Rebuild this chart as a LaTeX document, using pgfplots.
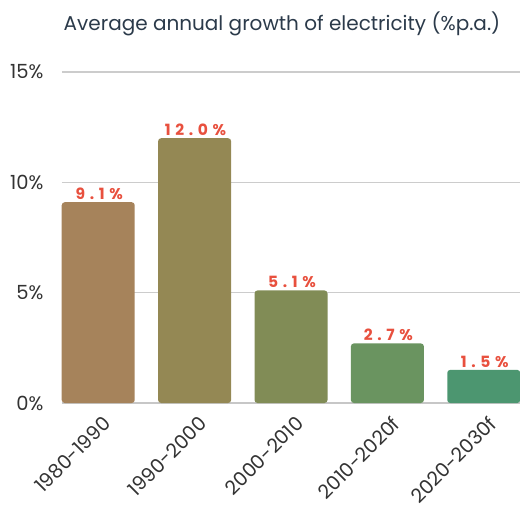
\documentclass[border=0pt]{standalone}
\usepackage{pgfplots}
\pgfplotsset{compat=1.18}
\usepackage{fontspec}
\setmainfont{Poppins}
\newfontfamily\lblfont[LetterSpace=30]{Poppins}
\definecolor{c1}{HTML}{A6835B}
\definecolor{c2}{HTML}{948854}
\definecolor{c3}{HTML}{818C56}
\definecolor{c4}{HTML}{6A9460}
\definecolor{c5}{HTML}{4C9670}
\definecolor{lblred}{HTML}{E8503E}
\definecolor{titlec}{HTML}{2B3A4A}
\definecolor{tickc}{HTML}{333333}
\begin{document}
\begin{tikzpicture}
\begin{axis}[
  scale only axis, width=458pt, height=331pt,
  xmin=-0.376, xmax=4.376, ymin=0, ymax=15,
  ybar, bar width=73pt, bar shift=0pt,
  axis x line*=bottom, axis y line*=left,
  y axis line style={draw=none},
  x axis line style={draw=black!22, line width=1.8pt, -},
  major tick length=0,
  ytick={0,5,10,15}, yticklabels={0\%,5\%,10\%,15\%},
  xtick={0,1,2,3,4},
  xticklabels={1980-1990,1990-2000,2000-2010,2010-2020f,2020-2030f},
  ymajorgrids, grid style={black!20, line width=1.2pt},
  yticklabel style={font=\fontsize{19.5}{20}\selectfont, color=tickc, xshift=-15pt},
  xticklabel style={font=\fontsize{19.5}{20}\selectfont, color=tickc, rotate=45, anchor=north east, xshift=-2.5pt, yshift=-7.5pt},
  nodes near coords, point meta=explicit symbolic,
  every node near coord/.append style={font=\lblfont\bfseries\fontsize{15.5}{16}\selectfont, color=lblred, yshift=-1pt, xshift=1pt},
  clip=false,
]
\addplot[fill=c1, draw=none, rounded corners=3pt] coordinates {(0,9.1) [9.1\%]};
\addplot[fill=c2, draw=none, rounded corners=3pt] coordinates {(1,12.0) [12.0\%]};
\addplot[fill=c3, draw=none, rounded corners=3pt] coordinates {(2,5.1) [5.1\%]};
\addplot[fill=c4, draw=none, rounded corners=3pt] coordinates {(3,2.7) [2.7\%]};
\addplot[fill=c5, draw=none, rounded corners=3pt] coordinates {(4,1.5) [1.5\%]};
\end{axis}
\node[font=\fontsize{20}{20}\selectfont, color=titlec] at ([shift={(220pt,379pt)}]current axis.south west) {Average annual growth of electricity (\%p.a.)};
\pgfresetboundingbox
\path (current axis.south west) ++(-62pt,-109pt) rectangle ++(520pt,512pt);
\end{tikzpicture}
\end{document}
